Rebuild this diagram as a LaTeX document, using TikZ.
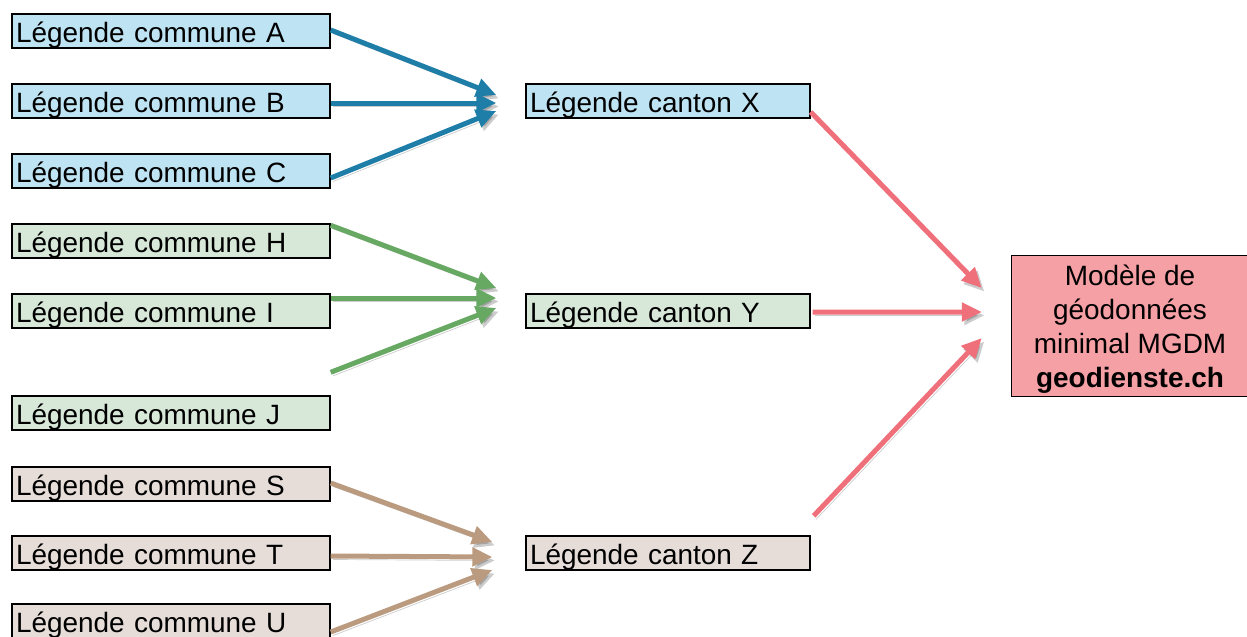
\documentclass[tikz,border=0pt]{standalone}
\usepackage{fontspec}
\setmainfont{Liberation Sans}
\usepackage{tikz}
\usetikzlibrary{arrows.meta,calc}
\usepackage{xcolor}

\definecolor{bleuFond}{HTML}{BEE3F3}
\definecolor{bleuFleche}{HTML}{1F7EA8}
\definecolor{vertFond}{HTML}{D7E8D9}
\definecolor{vertFleche}{HTML}{67A862}
\definecolor{brunFond}{HTML}{E6DCD8}
\definecolor{brunFleche}{HTML}{BB9B80}
\definecolor{roseFond}{HTML}{F4A0A5}
\definecolor{rougeFleche}{HTML}{EF707A}

\begin{document}
\begin{tikzpicture}[
  commune/.style={draw, line width=0.8pt, minimum height=0.68cm, text width=6.2cm,
    text height=0.56cm, text depth=0.1cm,
    inner xsep=0.08cm, inner ysep=0pt, align=left, font=\fontsize{15.9}{19.4}\selectfont},
  canton/.style={commune, text width=5.52cm},
  fleche/.style={draw=#1, line width=0.1cm, -{Triangle[length=0.4cm,width=0.36cm]},
    preaction={draw=black, opacity=0.2, transform canvas={shift={(0.05,-0.07)}}}},
]
\useasboundingbox (0,0) rectangle (24.94,-12.72);

\node[commune, fill=bleuFond] (a) at (3.42,-0.62) {Légende commune A};
\node[commune, fill=bleuFond] (b) at (3.42,-2.02) {Légende commune B};
\node[commune, fill=bleuFond] (c) at (3.42,-3.42) {Légende commune C};
\node[commune, fill=vertFond] (h) at (3.42,-4.82) {Légende commune H};
\node[commune, fill=vertFond] (i) at (3.42,-6.22) {Légende commune I};
\node[commune, fill=vertFond] (j) at (3.42,-8.26) {Légende commune J};
\node[commune, fill=brunFond] (s) at (3.42,-9.68) {Légende commune S};
\node[commune, fill=brunFond] (t) at (3.42,-11.06) {Légende commune T};
\node[commune, fill=brunFond] (u) at (3.42,-12.42) {Légende commune U};

\node[canton, fill=bleuFond] (x) at (13.36,-2.02) {Légende canton X};
\node[canton, fill=vertFond] (y) at (13.36,-6.22) {Légende canton Y};
\node[canton, fill=brunFond] (z) at (13.36,-11.06) {Légende canton Z};

\node[draw, line width=0.8pt, fill=roseFond, minimum width=4.74cm, minimum height=2.68cm,
  align=center, font=\fontsize{15.9}{19.4}\selectfont] (mgdm) at (22.6,-6.52)
  {\raisebox{-0.07cm}[\height][\depth]{\parbox{4.5cm}{\centering Modèle de\\géodonnées\\minimal MGDM\\\textbf{geodienste.ch}}}};

\coordinate (jdep) at ($(j.north east)+(0,0.46)$);
\coordinate (zdep) at ($(z.north east)+(0.06,0.39)$);

\draw[fleche=bleuFleche] ($(a.east)+(0,0.02)$) -- ($(x.west)+(-0.58,0.12)$);
\draw[fleche=bleuFleche] ($(b.east)+(0,-0.04)$) -- ($(x.west)+(-0.58,-0.04)$);
\draw[fleche=bleuFleche] ($(c.east)+(0,-0.14)$) -- ($(x.west)+(-0.58,-0.2)$);

\draw[fleche=vertFleche] ($(h.north east)+(0,-0.04)$) -- ($(y.west)+(-0.58,0.46)$);
\draw[fleche=vertFleche] ($(i.east)+(0,0.26)$) -- ($(y.west)+(-0.58,0.26)$);
\draw[fleche=vertFleche] (jdep) -- ($(y.west)+(-0.58,0.06)$);

\draw[fleche=brunFleche] ($(s.east)+(0,0.02)$) -- ($(z.west)+(-0.66,0.22)$);
\draw[fleche=brunFleche] ($(t.east)+(0,-0.06)$) -- ($(z.west)+(-0.66,-0.08)$);
\draw[fleche=brunFleche] ($(u.east)+(0,-0.22)$) -- ($(z.west)+(-0.66,-0.34)$);

\draw[fleche=rougeFleche] ($(x.east)+(0,-0.22)$) -- ($(mgdm.west)+(-0.58,0.76)$);
\draw[fleche=rougeFleche] ($(y.east)+(0.04,-0.02)$) -- ($(mgdm.west)+(-0.58,0.28)$);
\draw[fleche=rougeFleche] (zdep) -- ($(mgdm.west)+(-0.58,-0.24)$);

\end{tikzpicture}
\end{document}
